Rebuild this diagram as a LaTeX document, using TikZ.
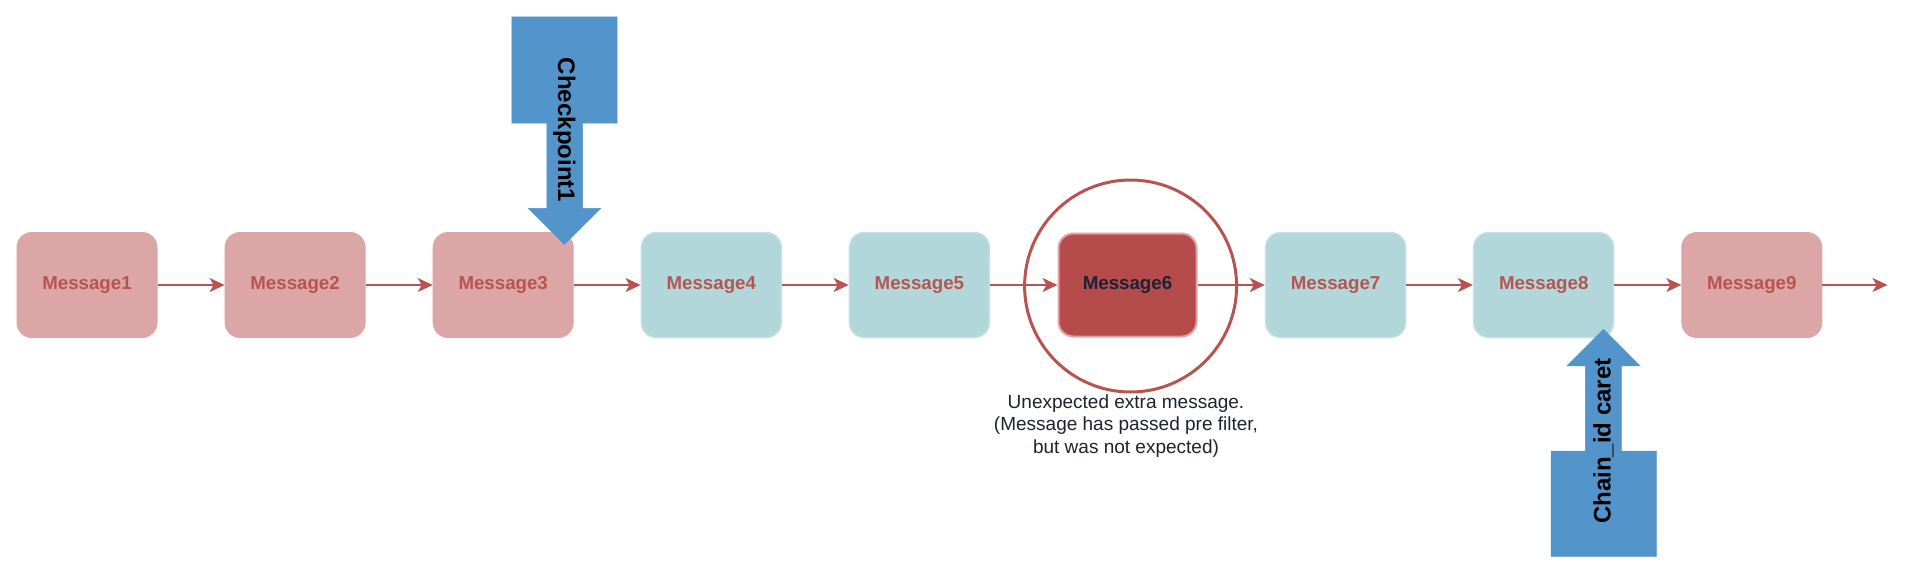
\documentclass[tikz,border=0pt]{standalone}
\usepackage{fontspec}
\setmainfont{Liberation Sans}
\usetikzlibrary{arrows.meta}
\definecolor{pinkfill}{RGB}{221,166,166}
\definecolor{tealfill}{RGB}{177,215,219}
\definecolor{darkred}{RGB}{181,75,75}
\definecolor{darkredline}{RGB}{226,160,160}
\definecolor{redline}{RGB}{184,84,80}
\definecolor{bluearrow}{RGB}{83,148,202}
\definecolor{navy}{RGB}{26,35,56}
\definecolor{desc}{RGB}{30,33,48}
\begin{document}
\begin{tikzpicture}[x=1pt,y=-1pt,
  msg/.style={minimum width=140pt,minimum height=105pt,rounded corners=15pt,inner sep=0pt,
    font=\fontsize{18.7}{22}\selectfont\bfseries,text=redline},
  pinkbox/.style={msg,fill=pinkfill,draw=pinkfill,line width=1pt},
  tealbox/.style={msg,fill=tealfill,draw=tealfill!75!white,line width=1.5pt},
  badbox/.style={msg,minimum width=138pt,minimum height=103pt,fill=darkred,draw=darkredline,line width=2pt,text=navy},
  link/.style={draw=redline,line width=1.8pt,-{Stealth[length=15pt,width=14pt,inset=4pt]}},
  blueshape/.style={fill=bluearrow,draw=bluearrow,line width=0.5pt},
  bluelabel/.style={font=\fontsize{24}{28}\selectfont\bfseries,text=black,inner sep=0pt},
  ring/.style={draw=redline,line width=3pt},
  desctext/.style={align=center,font=\fontsize{19}{22.7}\selectfont,text=desc,inner sep=0pt}
]
\useasboundingbox (0,0) rectangle (1920,574);

% message boxes
\node[pinkbox] (m1) at (87,285) {Message1};
\node[pinkbox] (m2) at (295.1,285) {Message2};
\node[pinkbox] (m3) at (503.2,285) {Message3};
\node[tealbox] (m4) at (711.3,285) {Message4};
\node[tealbox] (m5) at (919.4,285) {Message5};
\node[badbox]  (m6) at (1127.5,285) {Message6};
\node[tealbox] (m7) at (1335.6,285) {Message7};
\node[tealbox] (m8) at (1543.7,285) {Message8};
\node[pinkbox] (m9) at (1751.8,285) {Message9};
\coordinate (end) at (1887.5,285);

% highlight ring
\node[ring,circle,minimum size=212pt,inner sep=0pt] (ring) at (1130.6,286) {};

% connectors
\draw[link] (m1.east) -- (m2.west);
\draw[link] (m2.east) -- (m3.west);
\draw[link] (m3.east) -- (m4.west);
\draw[link] (m4.east) -- (m5.west);
\draw[link] (m5.east) -- (m6.west);
\draw[link] (m6.east) -- (m7.west);
\draw[link] (m7.east) -- (m8.west);
\draw[link] (m8.east) -- (m9.west);
\draw[link] (m9.east) -- (end);

% description
\node[desctext] (desc) at (1126,426) {Unexpected extra message.\\(Message has passed pre filter,\\but was not expected)};

% checkpoint arrow (pointing down)
\draw[blueshape] (511.8,16.8) -- (617.1,16.8) -- (617.1,123) -- (582.6,123) -- (582.6,208.3)
  -- (600.7,208.3) -- (564.4,244.3) -- (528.3,208.3) -- (546.8,208.3) -- (546.8,123)
  -- (511.8,123) -- cycle;
\node[bluelabel,rotate=-90] (cp) at (564.2,130) {Checkpoint1};

% chain_id caret arrow (pointing up)
\draw[blueshape] (1551,556.4) -- (1656.3,556.4) -- (1656.3,451) -- (1621.3,451) -- (1621.3,365.8)
  -- (1640,365.8) -- (1603.5,329.2) -- (1567,365.8) -- (1585.3,365.8) -- (1585.3,451)
  -- (1551,451) -- cycle;
\node[bluelabel,rotate=90] (cc) at (1603.5,441) {Chain\_id caret};

\end{tikzpicture}
\end{document}
